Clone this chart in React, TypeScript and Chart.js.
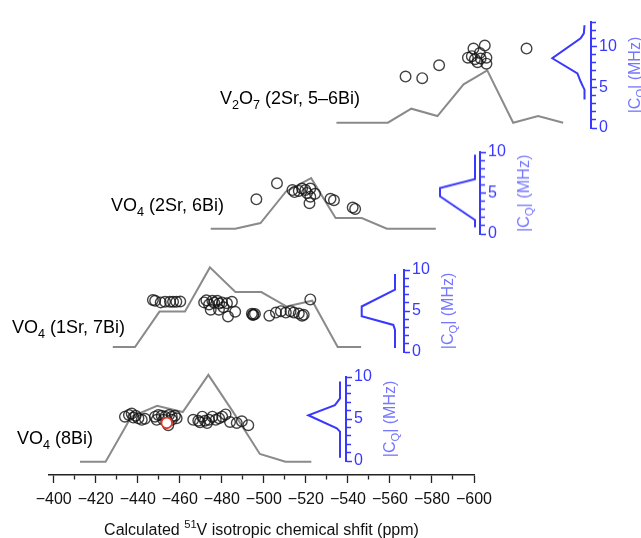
import React, { useEffect, useRef } from 'react';
import { Chart, registerables } from 'chart.js';

Chart.register(...registerables);

const FONT = "'Liberation Sans', Arial, Helvetica, sans-serif";
const BLUE = '#3838ff';
const BLUE_LIGHT = '#7676ff';
const GRAY = '#8a8a8a';
const CIRCLE = 'rgba(20,20,20,0.8)';
const RED = '#e5382a';

// ---------------- DATA ----------------
// x-axis ticks (ppm)
const xTickMin = -600;
const xTickMax = -400;
const xMinorStep = 10;
const xMajorStep = 20;

// Panel 1: V2O7 (2Sr, 5–6Bi)
const v2o7Shift = [-568.3, -576.4, -584.6, -598.6, -601.3, -606.8, -600.5, -604.4, -607.6, -603.3, -607.6, -602.0, -604.8, -627.1];
const v2o7Cq = [6.25, 6.04, 7.79, 8.82, 10.05, 10.45, 9.02, 9.44, 8.82, 8.21, 8.0, 8.6, 8.7, 10.05];
const v2o7HistShift = [-534.7, -547.2, -559.7, -571.1, -583.8, -596.5, -608.0, -620.6, -632.7, -644.9];
const v2o7HistCount = [0, 0, 0, 1.9, 0.9, 5.2, 7.1, 0, 0.9, 0];
const v2o7DistCq = [12.6, 11.6, 11.0, 8.55, 6.7, 5.7, 5.1, 4.7, 3.5];
const v2o7DistDensity = [0, 0.02, 0.12, 1.0, 0.22, 0.12, 0.05, 0, 0];

// Panel 2: VO4 (2Sr, 6Bi)
const vo4Sr2Shift = [-495.8, -505.8, -513.3, -514.3, -516.4, -518.0, -519.6, -520.4, -522.0, -524.3, -522.0, -521.6, -531.8, -533.5, -542.6, -543.8];
const vo4Sr2Cq = [4.13, 6.37, 5.43, 5.15, 5.31, 5.64, 5.43, 5.02, 5.64, 4.9, 4.5, 3.59, 4.2, 4.0, 2.98, 2.78];
const vo4Sr2HistShift = [-473.6, -485.5, -497.8, -510.1, -522.4, -534.3, -547.0, -559.2, -571.5, -583.0];
const vo4Sr2HistCount = [0, 0, 0.8, 5.2, 7.1, 1.5, 1.5, 0, 0, 0];
const vo4Sr2DistCq = [9.7, 6.7, 5.6, 4.6, 1.7, 0.8];
const vo4Sr2DistDensity = [0, 0, 1, 1, 0, 0];

// Panel 3: VO4 (1Sr, 7Bi)
const vo4Sr1Shift = [
  -445.5, -446.6, -449.3, -451.4, -453.8, -455.3, -456.9, -458.8,
  -470.4, -472.8, -474.4, -476.8, -479.1, -481.5, -483.9, -477.7, -475.3, -473.6, -477.6, -482.0, -485.5, -479.8, -471.5,
  -493.6, -494.4, -495.1, -494.1,
  -502.1, -505.3, -507.7, -510.1, -512.4, -514.0, -516.4, -518.0, -518.8, -522.0,
];
const vo4Sr1Cq = [
  6.5, 6.38, 6.17, 6.26, 6.26, 6.26, 6.26, 6.29,
  6.17, 5.89, 6.38, 6.38, 6.17, 6.05, 6.26, 6.0, 6.13, 5.16, 5.16, 4.22, 4.88, 5.5, 6.45,
  4.61, 4.49, 4.57, 4.43,
  4.34, 4.76, 4.95, 4.76, 4.95, 4.76, 4.63, 4.34, 4.46, 6.58,
];
const vo4Sr1HistShift = [-426.0, -436.8, -448.7, -461.1, -473.2, -485.6, -498.2, -510.5, -522.9, -535.3, -546.7];
const vo4Sr1HistCount = [0, 0, 4.9, 4.9, 11.0, 7.6, 7.6, 5.6, 6.4, 0, 0];
const vo4Sr1DistCq = [9.5, 7.6, 5.55, 4.35, 3.3, 2.7, 0.5];
const vo4Sr1DistDensity = [0, 0, 1, 1, 0.05, 0, 0];

// Panel 4: VO4 (8Bi)
const vo4Bi8Shift = [
  -433.9, -435.8, -437.1, -437.9, -439.0, -440.3, -441.9, -443.4,
  -448.2, -449.0, -449.8, -451.4, -452.2, -453.0, -454.9, -456.2, -456.2, -457.7, -458.5, -454.5,
  -466.4, -468.8, -470.7, -472.0, -473.9, -475.5, -477.1, -478.7, -480.2, -481.8, -483.9, -487.1, -489.5, -492.6, -473.0, -469.6,
];
const vo4Bi8Cq = [
  5.71, 5.92, 6.11, 5.6, 5.83, 5.51, 5.32, 5.44,
  5.71, 5.32, 5.92, 5.83, 5.32, 5.71, 5.92, 5.71, 5.32, 5.83, 5.51, 4.64,
  5.32, 5.2, 5.71, 5.2, 5.32, 5.71, 5.32, 5.51, 5.71, 6.0, 5.04, 4.92, 5.12, 4.64, 4.9, 5.0,
];
const vo4Bi8HighlightShift = [-453.8];
const vo4Bi8HighlightCq = [4.92];
const vo4Bi8HistShift = [-412.5, -424.7, -436.9, -449.2, -461.4, -473.6, -485.9, -498.1, -510.3, -522.6];
const vo4Bi8HistCount = [0, 0, 5.7, 7.1, 6.3, 11.0, 6.1, 1.0, 0, 0];
const vo4Bi8DistCq = [9.45, 7.45, 6.65, 5.45, 3.9, 3.5, 0.4];
const vo4Bi8DistDensity = [0, 0, 0.16, 1, 0.1, 0, 0];

// Texts
type Seg = { t: string; sub?: boolean; sup?: boolean };
const labelV2O7: Seg[] = [{ t: 'V' }, { t: '2', sub: true }, { t: 'O' }, { t: '7', sub: true }, { t: ' (2Sr, 5–6Bi)' }];
const labelSr2: Seg[] = [{ t: 'VO' }, { t: '4', sub: true }, { t: ' (2Sr, 6Bi)' }];
const labelSr1: Seg[] = [{ t: 'VO' }, { t: '4', sub: true }, { t: ' (1Sr, 7Bi)' }];
const labelBi8: Seg[] = [{ t: 'VO' }, { t: '4', sub: true }, { t: ' (8Bi)' }];
const cqTitle: Seg[] = [{ t: '|C' }, { t: 'Q', sub: true }, { t: '| (MHz)' }];
const xTitle: Seg[] = [{ t: 'Calculated ' }, { t: '51', sup: true }, { t: 'V isotropic chemical shfit (ppm)' }];

// ---------------- LAYOUT ----------------
const W = 641;
const H = 538;
const X_PX_AT_M400 = 53.7;
const PX_PER_PPM = 2.1015;
const ppmAtPx = (px: number) => -400 - (px - X_PX_AT_M400) / PX_PER_PPM;
const AXIS_LEFT_PX = 49;
const AXIS_RIGHT_PX = 474;
const AXIS_LINE_Y = 475;
const CIRCLE_R = 5.3;

type TextItem = { x: number; y: number; size: number; color: string; segs: Seg[]; align?: 'left' | 'center'; rotate?: number };

function drawRich(ctx: CanvasRenderingContext2D, it: TextItem) {
  ctx.save();
  ctx.translate(it.x, it.y);
  if (it.rotate) ctx.rotate(it.rotate);
  const parts = it.segs.map((s) => {
    const size = s.sub || s.sup ? it.size * 0.7 : it.size;
    const font = `${size}px ${FONT}`;
    ctx.font = font;
    return { t: s.t, font, w: ctx.measureText(s.t).width, dy: s.sub ? it.size * 0.28 : s.sup ? -it.size * 0.42 : 0 };
  });
  const total = parts.reduce((a, p) => a + p.w, 0);
  let x = it.align === 'center' ? -total / 2 : 0;
  ctx.fillStyle = it.color;
  ctx.textAlign = 'left';
  ctx.textBaseline = 'alphabetic';
  for (const p of parts) {
    ctx.font = p.font;
    ctx.fillText(p.t, x, p.dy);
    x += p.w;
  }
  ctx.restore();
}

function textPlugin(items: TextItem[]) {
  return {
    id: 'richText',
    afterDraw(chart: any) {
      items.forEach((it) => drawRich(chart.ctx, it));
    },
  };
}

const pts = (xs: number[], ys: number[]) => xs.map((x, i) => ({ x, y: ys[i] }));

type PanelSpec = {
  top: number;
  height: number;
  zeroY: number;
  ppu: number;
  shift: number[];
  cq: number[];
  histShift: number[];
  hist: number[];
  label: Seg[];
  labelX: number;
  labelY: number;
  withAxis?: boolean;
  hlShift?: number[];
  hlCq?: number[];
};

const PANELS: PanelSpec[] = [
  { top: 0, height: 140, zeroY: 128.3, ppu: 8.16, shift: v2o7Shift, cq: v2o7Cq, histShift: v2o7HistShift, hist: v2o7HistCount, label: labelV2O7, labelX: 220, labelY: 104 },
  { top: 140, height: 105, zeroY: 234, ppu: 8.16, shift: vo4Sr2Shift, cq: vo4Sr2Cq, histShift: vo4Sr2HistShift, hist: vo4Sr2HistCount, label: labelSr2, labelX: 111, labelY: 211 },
  { top: 250, height: 115, zeroY: 352.3, ppu: 8.2, shift: vo4Sr1Shift, cq: vo4Sr1Cq, histShift: vo4Sr1HistShift, hist: vo4Sr1HistCount, label: labelSr1, labelX: 12, labelY: 333 },
  { top: 355, height: 185, zeroY: 461, ppu: 8.4, shift: vo4Bi8Shift, cq: vo4Bi8Cq, histShift: vo4Bi8HistShift, hist: vo4Bi8HistCount, label: labelBi8, labelX: 17, labelY: 444, withAxis: true, hlShift: vo4Bi8HighlightShift, hlCq: vo4Bi8HighlightCq },
];

type MiniSpec = { axisX: number; zeroX: number; peakX: number; zeroY: number; ppu: number; max: number; cq: number[]; dens: number[] };
const MINIS: MiniSpec[] = [
  { axisX: 591, zeroX: 584.5, peakX: 552.3, zeroY: 128.3, ppu: 8.16, max: 13, cq: v2o7DistCq, dens: v2o7DistDensity },
  { axisX: 480, zeroX: 475, peakX: 440, zeroY: 234, ppu: 8.16, max: 10, cq: vo4Sr2DistCq, dens: vo4Sr2DistDensity },
  { axisX: 404, zeroX: 395, peakX: 361.7, zeroY: 352.3, ppu: 8.2, max: 10, cq: vo4Sr1DistCq, dens: vo4Sr1DistDensity },
  { axisX: 346, zeroX: 340, peakX: 308.3, zeroY: 461, ppu: 8.4, max: 10, cq: vo4Bi8DistCq, dens: vo4Bi8DistDensity },
];
const MINI_AREA_W = 45;
const MINI_AXIS_W = 55;
const MINI_PAD = 12;

function panelConfig(p: PanelSpec) {
  const areaBottom = p.withAxis ? AXIS_LINE_Y : p.top + p.height;
  const yMin = -(areaBottom - p.zeroY) / p.ppu;
  const yMax = (p.zeroY - p.top) / p.ppu;
  const texts: TextItem[] = [
    { x: p.labelX, y: p.labelY - p.top, size: 18, color: '#000', segs: p.label },
  ];
  if (p.withAxis) {
    texts.push({ x: (AXIS_LEFT_PX + AXIS_RIGHT_PX) / 2, y: 535 - p.top, size: 16, color: '#111', segs: xTitle, align: 'center' });
  }
  const datasets: any[] = [
    { type: 'line', data: pts(p.histShift, p.hist), borderColor: GRAY, borderWidth: 2, pointRadius: 0, tension: 0, fill: false, order: 3, clip: false },
    { type: 'scatter', data: pts(p.shift, p.cq), pointRadius: CIRCLE_R, pointBorderWidth: 1.4, pointBorderColor: CIRCLE, pointBackgroundColor: 'rgba(0,0,0,0)', order: 2, clip: false },
  ];
  if (p.hlShift && p.hlCq) {
    datasets.push({ type: 'scatter', data: pts(p.hlShift, p.hlCq), pointRadius: CIRCLE_R, pointBorderWidth: 1.8, pointBorderColor: RED, pointBackgroundColor: '#fff', order: 1, clip: false });
  }
  const xScale: any = p.withAxis
    ? {
        type: 'linear',
        reverse: true,
        min: xTickMin,
        max: ppmAtPx(AXIS_LEFT_PX),
        position: 'bottom',
        afterFit: (s: any) => { s.height = 65; },
        border: { display: true, color: '#222', width: 1.5 },
        grid: {
          drawOnChartArea: false,
          drawTicks: true,
          tickLength: 8,
          tickColor: '#222',
          tickWidth: 1.3,
          tickBorderDash: (ctx: any) => (Math.round(ctx.tick?.value ?? 0) % xMajorStep === 0 ? [] : [4, 40]),
        },
        ticks: {
          stepSize: xMinorStep,
          autoSkip: false,
          includeBounds: false,
          maxRotation: 0,
          minRotation: 0,
          padding: 7,
          color: '#111',
          font: { family: FONT, size: 16 },
          callback: (v: any) => {
            const n = Math.round(Number(v));
            if (n > xTickMax || n % xMajorStep !== 0) return '';
            return n < 0 ? '\u2212' + Math.abs(n) : String(n);
          },
        },
      }
    : { type: 'linear', display: false, reverse: true, min: ppmAtPx(W), max: ppmAtPx(0) };
  return {
    type: 'scatter',
    data: { datasets },
    options: {
      responsive: false,
      animation: false,
      devicePixelRatio: 1,
      events: [],
      layout: { padding: p.withAxis ? { left: AXIS_LEFT_PX, right: W - AXIS_RIGHT_PX, top: 0, bottom: 0 } : 0 },
      plugins: { legend: { display: false }, tooltip: { enabled: false } },
      scales: {
        x: xScale,
        y: { type: 'linear', display: false, min: yMin, max: yMax },
      },
    },
    plugins: [textPlugin(texts)],
  };
}

function miniGeom(m: MiniSpec) {
  const left = m.axisX - MINI_AREA_W;
  const top = m.zeroY - m.max * m.ppu - MINI_PAD;
  const height = m.max * m.ppu + 2 * MINI_PAD;
  return { left, top, width: MINI_AREA_W + MINI_AXIS_W, height };
}

function miniConfig(m: MiniSpec) {
  const g = miniGeom(m);
  const unit = m.zeroX - m.peakX;
  const xMin = -(m.axisX - m.zeroX) / unit;
  const xMax = xMin + MINI_AREA_W / unit;
  const midY = m.zeroY - (m.max * m.ppu) / 2 - g.top;
  const titleSize = 16;
  const texts: TextItem[] = [
    { x: MINI_AREA_W + 43 + titleSize * 0.36, y: midY, size: titleSize, color: BLUE_LIGHT, segs: cqTitle, align: 'center', rotate: -Math.PI / 2 },
  ];
  return {
    type: 'line',
    data: {
      datasets: [
        { data: pts(m.dens, m.cq), borderColor: BLUE, borderWidth: 2, pointRadius: 0, tension: 0, fill: false, clip: false },
      ],
    },
    options: {
      responsive: false,
      animation: false,
      devicePixelRatio: 1,
      events: [],
      layout: { padding: { top: MINI_PAD, bottom: MINI_PAD, left: 0, right: 0 } },
      plugins: { legend: { display: false }, tooltip: { enabled: false } },
      scales: {
        x: { type: 'linear', display: false, reverse: true, min: xMin, max: xMax },
        y: {
          type: 'linear',
          position: 'right',
          min: 0,
          max: m.max,
          afterFit: (s: any) => { s.width = MINI_AXIS_W; },
          border: { display: true, color: BLUE, width: 2 },
          grid: {
            drawOnChartArea: false,
            drawTicks: true,
            tickLength: 6,
            tickColor: BLUE,
            tickWidth: 1.5,
            tickBorderDash: (ctx: any) => (Math.round(ctx.tick?.value ?? 0) % 5 === 0 ? [] : [4, 40]),
          },
          ticks: {
            stepSize: 1,
            autoSkip: false,
            includeBounds: false,
            padding: 2,
            color: BLUE,
            font: { family: FONT, size: 16 },
            callback: (v: any) => (Math.round(Number(v)) % 5 === 0 ? String(Math.round(Number(v))) : ''),
          },
        },
      },
    },
    plugins: [textPlugin(texts)],
  };
}

function ChartBox({ left, top, width, height, make }: { left: number; top: number; width: number; height: number; make: () => any }) {
  const ref = useRef<HTMLCanvasElement | null>(null);
  useEffect(() => {
    if (!ref.current) return;
    const chart = new Chart(ref.current, make());
    return () => chart.destroy();
  }, []);
  return (
    <canvas
      ref={ref}
      width={width}
      height={height}
      style={{ position: 'absolute', left, top, width, height, display: 'block' }}
    />
  );
}

export default function App() {
  return (
    <div style={{ position: 'absolute', left: 0, top: 0, width: W, height: H, overflow: 'hidden', background: '#fff' }}>
      {PANELS.map((p, i) => (
        <ChartBox key={'p' + i} left={0} top={p.top} width={W} height={p.height} make={() => panelConfig(p)} />
      ))}
      {MINIS.map((m, i) => {
        const g = miniGeom(m);
        return <ChartBox key={'m' + i} left={g.left} top={g.top} width={g.width} height={g.height} make={() => miniConfig(m)} />;
      })}
    </div>
  );
}
